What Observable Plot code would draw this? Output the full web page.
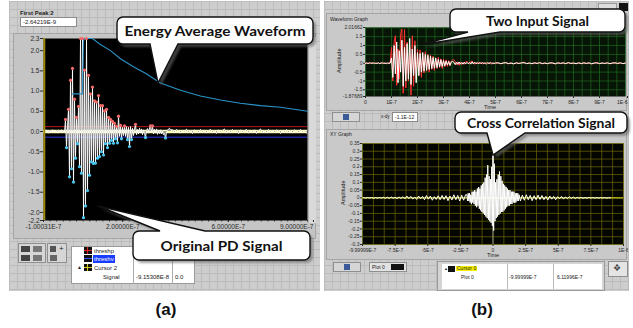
<!DOCTYPE html>
<html><head><meta charset="utf-8">
<script src="https://cdn.jsdelivr.net/npm/d3@7"></script>
<script src="https://cdn.jsdelivr.net/npm/@observablehq/plot@0.6"></script>
<style>
html,body{margin:0;padding:0;background:#fff}
#root{position:relative;width:633px;height:328px;overflow:hidden;font-family:"Liberation Sans",Arial,sans-serif}
.panel{position:absolute;background-color:#cdcdcd;background-image:linear-gradient(#bcbcbc 1px,transparent 1px),linear-gradient(90deg,#bcbcbc 1px,transparent 1px);background-size:8px 8px}
.frame{position:absolute;background:#c5c5c5;border:1px solid #a5a5a5;box-sizing:border-box}
.t{position:absolute;font-size:6px;color:#222;white-space:nowrap;line-height:1}
.num{position:absolute;background:#fff;border:1px solid #8a8a8a;box-sizing:border-box;font-size:6px;line-height:8px;padding-left:2px;color:#222;white-space:nowrap}
.btn{position:absolute;background:#d6d6d6;border:1px solid #8f8f8f;box-sizing:border-box}
.ico{position:absolute;background:#444}
.cap{position:absolute;font-weight:bold;font-size:17px;color:#111;transform:translateX(-50%)}
.plot{position:absolute}
.rot{position:absolute;font-size:5.5px;color:#222;transform:rotate(-90deg);transform-origin:center;white-space:nowrap}
</style></head>
<body><div id="root">
  <!-- panel (a) -->
  <div class="panel" style="left:9px;top:1px;width:311px;height:290px"></div>
  <div class="t" style="left:20px;top:10px;font-weight:bold">First Peak 2</div>
  <div class="num" style="left:20px;top:17px;width:57px;height:10px">-2.64219E-9</div>
  <div class="frame" style="left:13px;top:33px;width:303px;height:206px"></div>
  <div style="position:absolute;left:308px;top:37px;width:7px;height:186px;background:#d9d9d9;border-left:1px solid #b0b0b0"></div>
  <div class="btn" style="left:18px;top:243px;width:28px;height:20px"></div>
  <div class="ico" style="left:21px;top:246px;width:9px;height:6px"></div>
  <div class="ico" style="left:33px;top:246px;width:9px;height:6px;background:#777"></div>
  <div class="ico" style="left:21px;top:255px;width:9px;height:6px"></div>
  <div class="ico" style="left:33px;top:255px;width:9px;height:6px;background:#777"></div>
  <div class="btn" style="left:47px;top:243px;width:20px;height:20px"></div>
  <div class="ico" style="left:50px;top:246px;width:6px;height:6px;background:#555"></div>
  <div class="t" style="left:59px;top:245px;font-size:8px">+</div>
  <div class="ico" style="left:50px;top:255px;width:7px;height:6px;background:#666"></div>
  <div style="position:absolute;left:71px;top:246px;width:124px;height:38px;background:#fff;border:1px solid #9a9a9a;box-sizing:border-box"></div>
  <div style="position:absolute;left:133px;top:246px;width:1px;height:38px;background:#aaa"></div>
  <div style="position:absolute;left:172px;top:246px;width:1px;height:38px;background:#aaa"></div>
  <div class="ico" style="left:84px;top:247px;width:8px;height:7px;background:#111"></div>
  <div class="ico" style="left:84px;top:250px;width:8px;height:1px;background:#e02020"></div>
  <div class="ico" style="left:87px;top:247px;width:1px;height:7px;background:#e02020"></div>
  <div class="t" style="left:94px;top:248px">threshp</div>
  <div class="ico" style="left:84px;top:255px;width:8px;height:7px;background:#111"></div>
  <div class="ico" style="left:84px;top:258px;width:8px;height:1px;background:#3050ff"></div>
  <div class="t" style="left:93px;top:255px;background:#1a3cff;color:#fff;padding:1px 1px">threshv</div>
  <div class="t" style="left:77px;top:265px;font-size:5px">&#9650;</div>
  <div class="ico" style="left:84px;top:264px;width:8px;height:7px;background:#111"></div>
  <div class="ico" style="left:84px;top:267px;width:8px;height:1px;background:#d8d020"></div>
  <div class="ico" style="left:87px;top:264px;width:1px;height:7px;background:#d8d020"></div>
  <div class="t" style="left:94px;top:265px">Cursor 2</div>
  <div class="t" style="left:103px;top:274px">Signal</div>
  <div class="t" style="left:136px;top:274px">-9.15308E-8</div>
  <div class="t" style="left:175px;top:274px">0.0</div>

  <!-- panel (b) -->
  <div class="panel" style="left:324px;top:1px;width:305px;height:290px"></div>
  <div class="frame" style="left:326px;top:13px;width:301px;height:98px;background:#c9c9c9"></div>
  <div class="t" style="left:330px;top:17px;font-size:5px">Waveform Graph</div>
  <div style="position:absolute;left:598px;top:3px;width:19px;height:7px;background:#ddd;border:1px solid #999;box-sizing:border-box"></div>
  <div class="ico" style="left:619px;top:3px;width:9px;height:8px;background:#111"></div>
  <div class="rot" style="left:327px;top:58px;width:24px;text-align:center">Amplitude</div>
  <div class="t" style="left:484px;top:105px;font-size:5.5px">Time</div>
  <div class="btn" style="left:332px;top:112px;width:28px;height:10px"></div>
  <div class="ico" style="left:343px;top:114px;width:6px;height:6px;background:#3a5a9a"></div>
  <div class="t" style="left:381px;top:115px;font-size:4.5px">x-dy</div>
  <div class="num" style="left:392px;top:112px;width:26px;height:10px;font-size:5px">-1.1E-12</div>
  <div class="frame" style="left:326px;top:129px;width:301px;height:131px;background:#c9c9c9"></div>
  <div class="t" style="left:330px;top:132px;font-size:5px">XY Graph</div>
  <div class="rot" style="left:331px;top:190px;width:24px;text-align:center">Amplitude</div>
  <div class="t" style="left:487px;top:253px;font-size:5.5px">Time</div>
  <div class="btn" style="left:333px;top:262px;width:28px;height:10px"></div>
  <div class="ico" style="left:344px;top:264px;width:6px;height:6px;background:#3a5a9a"></div>
  <div class="btn" style="left:369px;top:262px;width:38px;height:10px;background:#e2e2e2"></div>
  <div class="t" style="left:372px;top:265px;font-size:5px">Plot 0</div>
  <div class="ico" style="left:391px;top:264px;width:13px;height:6px;background:#111"></div>
  <div style="position:absolute;left:437px;top:261px;width:168px;height:30px;background:#d4d4d4;border:1px solid #999;box-sizing:border-box"></div>
  <div style="position:absolute;left:442px;top:264px;width:160px;height:25px;background:#fff"></div>
  <div style="position:absolute;left:507px;top:264px;width:1px;height:25px;background:#bbb"></div>
  <div style="position:absolute;left:553px;top:264px;width:1px;height:25px;background:#bbb"></div>
  <div class="t" style="left:444px;top:267px;font-size:4px">&#9650;</div>
  <div class="ico" style="left:448px;top:266px;width:7px;height:6px;background:#111"></div>
  <div class="t" style="left:456px;top:266px;font-size:5px;background:#f5f000;padding:0 1px">Cursor 0</div>
  <div class="t" style="left:461px;top:275px;font-size:5px">Plot 0</div>
  <div class="t" style="left:509px;top:275px;font-size:5px">-9.99999E-7</div>
  <div class="t" style="left:557px;top:275px;font-size:5px">6.11996E-7</div>
  <div class="btn" style="left:608px;top:261px;width:20px;height:16px;background:#e4e4e4"></div>
  <div class="t" style="left:613px;top:264px;font-size:9px;color:#444">&#10070;</div>

  <div class="cap" style="left:166px;top:300px">(a)</div>
  <div class="cap" style="left:482px;top:300px">(b)</div>
</div>
<script>
// ---------------- data: panel (a) Original PD signal (time in units of 1E-7 s) ----------------
const A_T0 = -1.00031;          // first sample time
const A_DT = 0.03788;           // sample interval of the recorded waveform
const preA = [0.02,-0.03,0.04,-0.01,0.03,-0.04,0.02,0.01,-0.03,0.04,-0.02,0.03,-0.01,0.02,-0.04,0.03,0.01,-0.02,0.04,-0.03,0.02,-0.01];
const burstA = [0.30,-0.40,0.15,0.55,-1.12,1.27,-0.92,1.56,-1.25,0.80,
  -0.66,0.35,-0.30,0.62,-0.87,2.30,-1.03,2.30,-2.13,1.52,
  -1.84,2.30,-1.46,1.39,-1.08,0.93,-0.75,1.10,-0.79,0.76,
  -0.78,0.73,-0.66,0.89,-0.62,0.64,-0.50,0.64,-0.58,0.51,
  -0.30,0.55,-0.40,0.35,-0.29,0.30,-0.22,0.25,-0.29,0.20,
  -0.18,0.13,-0.28,0.38,-0.12,0.15,-0.18,0.10,-0.10,0.14,
  -0.12,0.12,-0.20,0.10,-0.37,0.12,-0.20,0.08,-0.10,0.06,
  0.18,-0.08];
const decayA = [0.05,-0.06,0.08,-0.04,0.06,-0.08,0.04,-0.05,-0.15,0.03,
  0.07,-0.04,0.09,0.14,-0.03,0.14,-0.06,0.05,-0.04,0.06,
  -0.07,0.03,-0.05,0.04,-0.06,0.02,-0.08,-0.05,-0.16,-0.04,
  0.03,0.06,0.08,0.05];
const tailA = [0.04,-0.03,0.05,0.01,-0.04,0.03,-0.02,0.06,-0.03,0.02,
  -0.05,0.04,0.00,-0.03,0.05,-0.02,0.03,-0.04,0.02,0.05,
  -0.03,0.01,-0.05,0.04,-0.02,0.03,0.06,-0.04,0.02,-0.03,
  0.05,-0.01,0.03,-0.05,0.04,-0.02,0.02,0.05,-0.04,0.03,
  -0.02,0.04,-0.05,0.02,0.06,-0.03,0.01,-0.04,0.05,-0.02,
  0.03,-0.03,0.04,0.01,-0.05,0.03,-0.02,0.05,-0.03,0.02,
  -0.04,0.04,0.00,-0.03,0.05,-0.02,0.03,-0.04];
const threshP = 0.12, threshV = -0.14;
const energyT = [0.098,0.474,0.512,0.588,0.853,1.156,1.535,1.914,2.406,2.861,3.429,4.187,4.944,5.702,6.459,7.217,7.975,9.0];
const energyV = [0.93,0.93,2.25,2.30,2.30,2.15,2.00,1.80,1.60,1.44,1.20,1.02,0.88,0.78,0.70,0.64,0.60,0.50];
const yTicksA = [2.3,2.0,1.5,1.0,0.5,0.0,-0.5,-1.0,-1.5,-2.0,-2.2];
const yLabelsA = ["2.3","2.0","1.5","1.0","0.5","0.0","-0.5","-1.0","-1.5","-2.0","-2.2"];
const xTicksA = [-1.00031,2,6];
const xLabelsA = ["-1.00031E-7","2.00000E-7","6.00000E-7"];
const xLastTickA = [9];
const xLastLabelA = ["9.00000E-7"];

// ---------------- data: panel (b) two input signals (time in 1E-7 s) ----------------
const preRed = [0.02,-0.03,0.01,0.03,-0.02,0.02,-0.01,0.03,-0.02,0.01,0.02,-0.03,0.02,-0.01,0.03,-0.02,0.02,-0.03,0.01,0.02];
const preWhite = [-0.01,0.02,-0.02,0.01,0.02,-0.01,0.02,-0.02,0.01,-0.01,0.02,-0.02,0.01,0.02,-0.01,0.01,-0.02,0.02,-0.01,0.01];
const burstRed = [0.9,-1.0,1.2,1.55,-1.25,0.8,-0.9,1.6,1.93,-1.7,
  1.9,-1.4,1.2,-1.0,0.9,-1.8,1.55,-1.3,1.27,-0.9,
  0.8,-0.7,0.75,-0.8,0.6,-0.55,0.65,-0.45,0.5,-0.5,
  0.45,-0.35,0.4,-0.4,0.3,-0.3,0.35,-0.25,0.25,-0.3,
  0.22,-0.2,0.2,-0.18,0.15,-0.15,0.12,0.18,0.2,0.1,
  -0.1,0.08,-0.12,0.06,-0.08,0.05,-0.06,0.08,0.1,0.04,
  -0.05,0.1,0.12,0.05,-0.06,0.04,-0.04,0.06,-0.03,0.05,
  -0.04,0.03,-0.05,0.04,-0.03,0.05,-0.02,0.03,-0.04,0.02,-0.02];
const burstWhite = [0.3,-0.8,1.0,-0.6,1.2,-1.1,0.7,-0.5,1.3,-1.3,
  0.9,-1.0,1.1,-0.9,1.4,-1.2,0.8,-0.7,1.0,-1.1,
  0.6,-0.7,0.55,-0.5,0.6,-0.45,0.5,-0.4,0.45,-0.35,
  0.4,-0.3,0.32,-0.28,0.3,-0.25,0.22,-0.2,0.2,-0.18,
  0.15,-0.15,0.12,-0.1,0.1,-0.12,0.08,0.1,0.06,-0.08,
  0.05,-0.06,0.07,-0.05,0.04,-0.05,0.06,-0.04,0.05,-0.03,
  0.04,-0.05,0.08,-0.04,0.06,-0.03,0.04,-0.04,0.05,-0.03,
  0.04,-0.02,0.03,-0.04,0.03,-0.02,0.04,-0.03,0.02,-0.02,0.02];
const tailRed = [0.03,-0.04,0.02,0.05,-0.03,0.02,-0.05,0.04,-0.02,0.03,
  0.06,-0.03,0.02,-0.04,0.03,-0.02,0.05,-0.03,0.02,-0.04,
  0.03,0.02,-0.05,0.04,-0.02,0.03,-0.03,0.05,-0.02,0.02,
  -0.04,0.03,-0.03,0.04,-0.02,0.03,-0.05,0.02,0.04,-0.03,
  0.02,-0.02,0.03,-0.04,0.02,0.03,-0.02,0.04,-0.03,0.02];
const tailWhite = [0.02,-0.02,0.01,0.03,-0.02,0.01,-0.03,0.02,-0.01,0.02,
  0.03,-0.02,0.01,-0.02,0.02,-0.01,0.03,-0.02,0.01,-0.02,
  0.02,0.01,-0.03,0.02,-0.01,0.02,-0.02,0.03,-0.01,0.01,
  -0.02,0.02,-0.02,0.02,-0.01,0.02,-0.03,0.01,0.02,-0.02,
  0.01,-0.01,0.02,-0.02,0.01,0.02,-0.01,0.02,-0.02,0.01];
const yTicksB1 = [2.01662,1.5,1,0.5,0,-0.5,-1,-1.5,-1.87689];
const yLabelsB1 = ["2.01662","1.5","1","0.5","0","-0.5","-1","-1.5","-1.87689"];
const xTicksB1 = [0,1,2,3,4,5,6,7,8,9];
const xLabelsB1 = ["0","1E-7","2E-7","3E-7","4E-7","5E-7","6E-7","7E-7","8E-7","9E-7"];
const xLastTickB1 = [10];
const xLastLabelB1 = ["1E-6"];

// ---------------- data: panel (b) cross correlation (lag in 1E-7 s) ----------------
const corrLeft = [0.002,-0.002,0.003,-0.001,0.002,-0.003,0.002,-0.002,0.003,-0.002,
  0.004,-0.003,0.005,-0.004,0.006,-0.003,0.004,-0.005,0.006,-0.004,
  0.008,-0.006,0.012,-0.005,0.010,-0.008,0.006,-0.010,0.012,-0.006,
  0.010,-0.012,0.015,-0.008,0.012,-0.015,0.008,-0.010,0.014,-0.012,
  0.016,-0.010,0.014,-0.018,0.012,-0.014,0.020,-0.012,0.016,-0.020,0.018,-0.015,0.020];
const corrCenter = [0.02,-0.02,0.03,-0.02,0.03,-0.03,0.02,-0.04,0.04,-0.03,
  0.04,-0.04,0.05,-0.05,0.04,-0.06,0.06,-0.05,0.07,-0.07,
  0.06,-0.08,0.08,-0.09,0.09,-0.10,0.10,-0.11,0.13,-0.12,
  0.15,-0.13,0.21,-0.14,0.14,-0.15,0.12,-0.16,0.20,-0.18,
  0.28,-0.21,0.22,-0.15,0.10,-0.13,0.12,-0.12,0.15,-0.11,
  0.17,-0.10,0.14,-0.09,0.11,-0.09,0.09,-0.08,0.08,-0.07,
  0.07,-0.06,0.06,-0.05,0.05,-0.05,0.05,-0.04,0.04,-0.04,
  0.04,-0.03,0.04,-0.03,0.03,-0.03,0.03,-0.02,0.03,-0.02,0.02];
const corrRight = [-0.020,0.018,-0.015,0.020,-0.012,0.016,-0.018,0.014,-0.012,0.018,
  -0.010,0.015,-0.012,0.010,-0.014,0.012,-0.008,0.010,-0.012,0.008,
  -0.006,0.010,-0.008,0.006,-0.005,0.008,-0.004,0.006,-0.005,0.004,
  -0.003,0.004,-0.003,0.002,-0.003,0.004,-0.002,0.003,-0.002,0.002,
  -0.002,0.002,-0.001,0.002,-0.002,0.001,0.000];
const yTicksB2 = [0.35,0.3,0.25,0.2,0.15,0.1,0.05,0,-0.05,-0.1,-0.15,-0.2,-0.25,-0.3];
const yLabelsB2 = ["0.35","0.3","0.25","0.2","0.15","0.1","0.05","0","-0.05","-0.1","-0.15","-0.2","-0.25","-0.3"];
const xTicksB2 = [-9.99999,-7.5,-5,-2.5,0,2.5,5,7.5,10];
const xLabelsB2 = ["-9.99999E-7","-7.5E-7","-5E-7","-2.5E-7","0","2.5E-7","5E-7","7.5E-7","1E-6"];

// ---------------- build ----------------
const wave = (t0, dt, vals) => vals.map((v, i) => ({t: t0 + i * dt, v}));
const fmt = (ticks, labels) => { const m = new Map(ticks.map((d, i) => [d, labels[i]])); return d => m.get(d) ?? ""; };
const root = document.getElementById("root");
function put(el, left, top) { const d = document.createElement("div"); d.className = "plot"; d.style.left = left + "px"; d.style.top = top + "px"; d.appendChild(el); root.appendChild(d); }

const signalA = [
  ...wave(A_T0, A_DT, preA),
  ...wave(A_T0 + preA.length * A_DT, A_DT, burstA),
  ...wave(A_T0 + (preA.length + burstA.length) * A_DT, A_DT, decayA),
  ...wave(A_T0 + (preA.length + burstA.length + decayA.length + 1) * A_DT, 2 * A_DT, tailA)
];
const peaksA = signalA.filter((d, i, a) => d.v > threshP && (i === 0 || a[i-1].v <= d.v) && (i === a.length-1 || a[i+1].v <= d.v));
const troughsA = signalA.filter((d, i, a) => d.v < threshV && (i === 0 || a[i-1].v >= d.v) && (i === a.length-1 || a[i+1].v >= d.v));
const energyA = energyT.map((t, i) => ({t, v: energyV[i]}));

const axisStyle = (size) => ({background: "transparent", fontSize: size, fontFamily: "'Liberation Sans', Arial, sans-serif", color: "#2a2a2a", overflow: "hidden"});

put(Plot.plot({
  width: 302, height: 205, marginLeft: 30, marginRight: 8, marginTop: 8, marginBottom: 15,
  style: axisStyle("6.5px"),
  x: {domain: [-1.00031, 9.0]},
  y: {domain: [-2.2, 2.3]},
  marks: [
    Plot.frame({fill: "#000"}),
    Plot.ruleY([0], {stroke: "#fffcb8", strokeWidth: 3.5}),
    Plot.ruleY([threshP], {stroke: "#c81e1e", strokeWidth: 0.9}),
    Plot.ruleY([threshV], {stroke: "#2c3cff", strokeWidth: 0.9}),
    Plot.ruleX(signalA, {x: "t", y1: 0, y2: "v", stroke: "#8a8a8a", strokeWidth: 0.8}),
    Plot.line(signalA, {x: "t", y: "v", stroke: "#fff", strokeWidth: 0.9}),
    Plot.line(energyA, {x: "t", y: "v", stroke: "#2b94c9", strokeWidth: 1.1}),
    Plot.dot(peaksA, {x: "t", y: "v", r: 1.6, fill: "#f06a6a"}),
    Plot.dot(troughsA, {x: "t", y: "v", r: 1.6, fill: "#4cc8f0"}),
    Plot.ruleX([A_T0 + 0.03], {stroke: "#9c8a10", strokeWidth: 2}),
    Plot.axisY({ticks: yTicksA, tickFormat: fmt(yTicksA, yLabelsA), tickSize: 3, tickPadding: 1, label: null}),
    Plot.axisX({ticks: xTicksA, tickFormat: fmt(xTicksA, xLabelsA), tickSize: 2, tickPadding: 2, label: null}),
    Plot.axisX({ticks: xLastTickA, tickFormat: fmt(xLastTickA, xLastLabelA), tickSize: 2, tickPadding: 2, textAnchor: "end", dx: 6, label: null}),
    Plot.axisX({ticks: d3.range(-1, 9.01, 0.25), tickFormat: () => "", tickSize: 1.5, label: null})
  ]
}), 13, 30);

const redB = [...wave(0, 0.05, preRed), ...wave(1.0, 0.05, burstRed), ...wave(5.1, 0.1, tailRed)];
const whiteB = [...wave(0, 0.05, preWhite), ...wave(1.0, 0.05, burstWhite), ...wave(5.1, 0.1, tailWhite)];
put(Plot.plot({
  width: 303, height: 100, marginLeft: 40, marginRight: 3, marginTop: 12, marginBottom: 19,
  style: axisStyle("5px"),
  x: {domain: [0, 10]},
  y: {domain: [-1.87689, 2.01662]},
  marks: [
    Plot.frame({fill: "#061506"}),
    Plot.ruleX(d3.range(0, 10.001, 1/3), {stroke: "#1f6a1f", strokeWidth: 0.7}),
    Plot.ruleY(d3.range(-1.5, 2.01, 0.5), {stroke: "#1f6a1f", strokeWidth: 0.7}),
    Plot.line(redB, {x: "t", y: "v", stroke: "#ff3030", strokeWidth: 1}),
    Plot.line(whiteB, {x: "t", y: "v", stroke: "#ffffff", strokeWidth: 1}),
    Plot.axisY({ticks: yTicksB1, tickFormat: fmt(yTicksB1, yLabelsB1), tickSize: 2, tickPadding: 1, label: null}),
    Plot.axisX({ticks: xTicksB1, tickFormat: fmt(xTicksB1, xLabelsB1), tickSize: 2, tickPadding: 1.5, label: null}),
    Plot.axisX({ticks: xLastTickB1, tickFormat: fmt(xLastTickB1, xLastLabelB1), tickSize: 2, tickPadding: 1.5, textAnchor: "end", dx: 2, label: null})
  ]
}), 325, 15);

const corr = [...wave(-9.9, 0.15, corrLeft), ...wave(-2.0, 0.05, corrCenter), ...wave(2.1, 0.15, corrRight)];
put(Plot.plot({
  width: 303, height: 125, marginLeft: 37, marginRight: 5, marginTop: 5, marginBottom: 19,
  style: axisStyle("5px"),
  x: {domain: [-9.99999, 10]},
  y: {domain: [-0.3, 0.35]},
  marks: [
    Plot.frame({fill: "#050500"}),
    Plot.ruleX(d3.range(-10, 10.001, 2.5/3), {stroke: "#6c6a00", strokeWidth: 0.7}),
    Plot.ruleY(yTicksB2, {stroke: "#6c6a00", strokeWidth: 0.7}),
    Plot.ruleY([0], {stroke: "#eeee20", strokeWidth: 1}),
    Plot.ruleX([0], {stroke: "#bbbbbb", strokeWidth: 0.7}),
    Plot.line(corr, {x: "t", y: "v", stroke: "#ffffff", strokeWidth: 1}),
    Plot.axisY({ticks: yTicksB2, tickFormat: fmt(yTicksB2, yLabelsB2), tickSize: 2, tickPadding: 1, label: null}),
    Plot.axisX({ticks: xTicksB2, tickFormat: fmt(xTicksB2, xLabelsB2), tickSize: 2, tickPadding: 1.5, label: null})
  ]
}), 325, 138);

// ---------------- callouts ----------------
const callouts = [
  {text: "Energy Average Waveform", x0: 117, y0: 17, x1: 313, y1: 44, side: "bottom", a: 150, b: 178, tx: 158, ty: 83, tw: 181},
  {text: "Original PD Signal", x0: 133, y0: 231, x1: 310, y1: 260, side: "top", a: 160, b: 205, tx: 98, ty: 206, tw: 122},
  {text: "Two Input Signal", x0: 450, y0: 9, x1: 625, y1: 32, side: "bottom", a: 468, b: 500, tx: 420, ty: 45, tw: 103},
  {text: "Cross Correlation Signal", x0: 455, y0: 112, x1: 627, y1: 133, side: "bottom", a: 487, b: 525, tx: 493, ty: 155, tw: 148}
];
function calloutPath(c, r) {
  const {x0, y0, x1, y1, side, a, b, tx, ty} = c;
  let p = `M${x0 + r},${y0}`;
  if (side === "top") p += `L${a},${y0}L${tx},${ty}L${b},${y0}`;
  p += `L${x1 - r},${y0}A${r},${r} 0 0 1 ${x1},${y0 + r}L${x1},${y1 - r}A${r},${r} 0 0 1 ${x1 - r},${y1}`;
  if (side === "bottom") p += `L${b},${y1}L${tx},${ty}L${a},${y1}`;
  p += `L${x0 + r},${y1}A${r},${r} 0 0 1 ${x0},${y1 - r}L${x0},${y0 + r}A${r},${r} 0 0 1 ${x0 + r},${y0}Z`;
  return p;
}
const ov = d3.select(root).append("svg").attr("width", 633).attr("height", 328)
  .style("position", "absolute").style("left", 0).style("top", 0);
ov.append("defs").append("filter").attr("id", "blur").append("feGaussianBlur").attr("stdDeviation", 1.3);
for (const c of callouts) {
  ov.append("path").attr("d", calloutPath(c, 6)).attr("transform", "translate(3,3)")
    .attr("fill", "#666").attr("opacity", 0.6).attr("filter", "url(#blur)");
  ov.append("path").attr("d", calloutPath(c, 6)).attr("fill", "#fff").attr("stroke", "#111").attr("stroke-width", 1.4);
  ov.append("text").attr("x", (c.x0 + c.x1) / 2).attr("y", (c.y0 + c.y1) / 2 + 5)
    .attr("text-anchor", "middle").attr("font-family", "Lato, 'Open Sans', sans-serif").attr("font-weight", 700)
    .attr("font-size", 14).attr("fill", "#111")
    .attr("textLength", c.tw).attr("lengthAdjust", "spacingAndGlyphs").text(c.text);
}
</script>
</body></html>
